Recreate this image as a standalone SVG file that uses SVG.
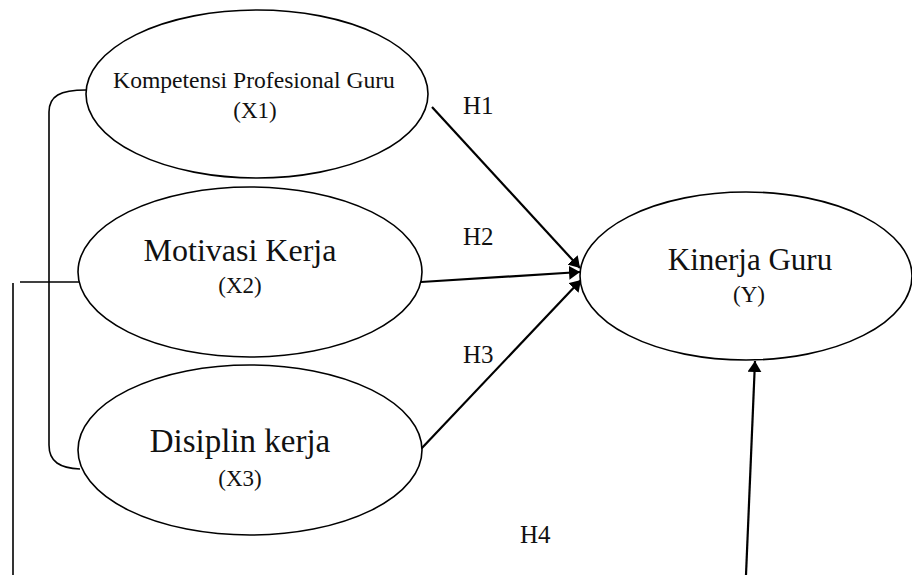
<svg xmlns="http://www.w3.org/2000/svg" width="912" height="575" viewBox="0 0 912 575">
<defs>
<style>
.node ellipse{fill:#fff;stroke:#000;stroke-width:1.6}
text{font-family:"Liberation Serif","Times New Roman",serif;fill:#111}
.t{text-anchor:middle}
.edge{stroke:#000;stroke-width:2.2;fill:none}
.thin{stroke:#000;stroke-width:1.6;fill:none}
</style>
<marker id="ah" viewBox="0 0 11 14" markerWidth="11" markerHeight="14" refX="11" refY="7" orient="auto" markerUnits="userSpaceOnUse">
<path d="M0,0 L11,7 L0,14 z" fill="#000"/>
</marker>
</defs>
<rect width="912" height="575" fill="#fff"/>
<g id="connectors">
<path class="thin" d="M86 90 C60 90 49 96 49 112 L49 445 C49 462 60 468 80 469"/>
<line class="thin" x1="20" y1="282" x2="79" y2="282"/>
<line class="thin" x1="13" y1="283" x2="13" y2="575"/>
<line class="edge" x1="432" y1="107" x2="580" y2="268" marker-end="url(#ah)"/>
<line class="edge" x1="421" y1="282" x2="580" y2="272" marker-end="url(#ah)"/>
<line class="edge" x1="421" y1="449" x2="581" y2="280" marker-end="url(#ah)"/>
<line class="edge" x1="746" y1="575" x2="755" y2="361" marker-end="url(#ah)"/>
<text x="463" y="114" font-size="25">H1</text>
<text x="463" y="245" font-size="25">H2</text>
<text x="463" y="363" font-size="25">H3</text>
<text x="520" y="543" font-size="25">H4</text>
</g>
<g id="x1" class="node">
<ellipse cx="257" cy="94" rx="171" ry="84"/>
<text class="t" x="254" y="88" font-size="23.6">Kompetensi Profesional Guru</text>
<text class="t" x="255" y="118" font-size="23">(X1)</text>
</g>
<g id="x2" class="node">
<ellipse cx="250" cy="272" rx="172" ry="85"/>
<text class="t" x="240" y="261" font-size="32">Motivasi Kerja</text>
<text class="t" x="240" y="293" font-size="23">(X2)</text>
</g>
<g id="x3" class="node">
<ellipse cx="250" cy="450" rx="172" ry="85"/>
<text class="t" x="240" y="452" font-size="33">Disiplin kerja</text>
<text class="t" x="240" y="486" font-size="23">(X3)</text>
</g>
<g id="y" class="node">
<ellipse cx="746" cy="276" rx="166" ry="84"/>
<text class="t" x="750" y="270" font-size="31">Kinerja Guru</text>
<text class="t" x="749" y="302" font-size="23">(Y)</text>
</g>
</svg>
